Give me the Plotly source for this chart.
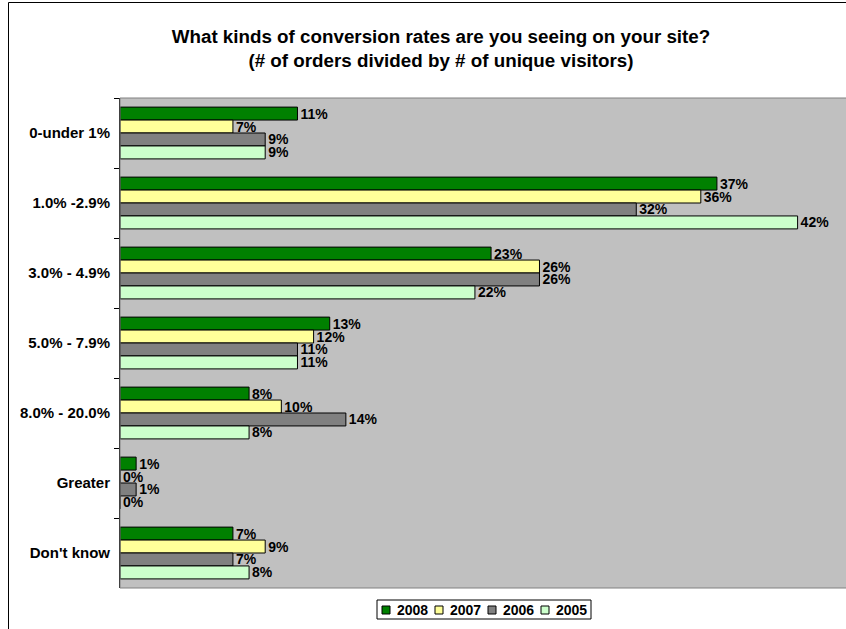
import plotly.graph_objects as go

categories = ["0-under 1%", "1.0% -2.9%", "3.0% - 4.9%", "5.0% - 7.9%",
              "8.0% - 20.0%", "Greater", "Don't know"]
years = ["2008", "2007", "2006", "2005"]
v2008 = [11, 37, 23, 13, 8, 1, 7]
v2007 = [7, 36, 26, 12, 10, 0, 9]
v2006 = [9, 32, 26, 11, 14, 1, 7]
v2005 = [9, 42, 22, 11, 8, 0, 8]
series = [v2008, v2007, v2006, v2005]
colors = ["#008000", "#FFFF99", "#808080", "#CCFFCC"]

W, H = 846, 629
PLOT_L, PLOT_T, PLOT_B, PLOT_W = 120, 98, 588, 726  # pixels
ML = PLOT_L
MT = PLOT_T
MB = H - PLOT_B
MR = W - ML - PLOT_W
PH = H - MT - MB


def px2x(px):
    return (px - PLOT_L) / PLOT_W


def px2y(py):
    return (PLOT_B - py) / PH


FONT = "Liberation Sans, Arial, sans-serif"

fig = go.Figure()
for name, vals, col in zip(years, series, colors):
    fig.add_trace(go.Bar(
        y=categories, x=vals, name=name, orientation="h",
        marker=dict(color=col, line=dict(color="#000000", width=1)),
        text=[f"{v}%" for v in vals], textposition="outside",
        texttemplate="<b>%{text}</b>",
        constraintext="none",
        textfont=dict(family=FONT, size=14, color="#000000"),
        cliponaxis=False, showlegend=False,
    ))

shapes = [
    dict(type="rect", xref="paper", yref="paper", x0=0, x1=1.05, y0=0, y1=1,
         line=dict(color="#808080", width=1), layer="above"),
    dict(type="rect", xref="paper", yref="paper", x0=px2x(8.5), x1=px2x(900),
         y0=px2y(700), y1=px2y(2.5),
         line=dict(color="#000000", width=1), layer="below"),
    # legend box
    dict(type="rect", xref="paper", yref="paper", x0=px2x(377), x1=px2x(591),
         y0=px2y(619), y1=px2y(600), fillcolor="#FFFFFF",
         line=dict(color="#000000", width=1), layer="above"),
]
annotations = []
sq_x = [382, 435, 488, 541]
tx_x = [395, 448, 501, 554]
for name, col, sx, tx in zip(years, colors, sq_x, tx_x):
    shapes.append(dict(type="rect", xref="paper", yref="paper",
                       x0=px2x(sx), x1=px2x(sx + 8), y0=px2y(614), y1=px2y(606),
                       fillcolor=col, line=dict(color="#000000", width=1), layer="above"))
    annotations.append(dict(text=f"<b>{name}</b>", xref="paper", yref="paper",
                            x=px2x(tx), y=px2y(610), xanchor="left", yanchor="middle",
                            showarrow=False,
                            font=dict(family=FONT, size=14, color="#000000")))

fig.update_layout(
    width=W, height=H,
    margin=dict(l=ML, r=MR, t=MT, b=MB, autoexpand=False),
    paper_bgcolor="#FFFFFF", plot_bgcolor="#C0C0C0",
    barmode="group", bargap=0.26, bargroupgap=0,
    font=dict(family=FONT, color="#000000"),
    title=dict(
        text="<b>What kinds of conversion rates are you seeing on your site?<br>(# of orders divided by # of unique visitors)</b>",
        x=441 / W, xanchor="center", y=1 - 43 / H, yanchor="middle",
        font=dict(size=18.8, family=FONT, color="#000000"),
    ),
    xaxis=dict(range=[0, 45], showticklabels=False, showgrid=False,
               zeroline=False, showline=False, ticks="", automargin=False),
    yaxis=dict(autorange="reversed", type="category", showgrid=False,
               showline=True, linecolor="#000000", linewidth=1,
               ticks="outside", ticklen=5, tickcolor="#000000",
               tickson="boundaries", ticklabelstandoff=6, automargin=False,
               tickfont=dict(size=15, family=FONT, color="#000000", weight="bold"),
               zeroline=False),
    showlegend=False,
    shapes=shapes,
    annotations=annotations,
)

fig.write_html("out.html", config={"displayModeBar": False},
               post_script="document.body.style.margin='0px';document.body.style.overflow='hidden';")
